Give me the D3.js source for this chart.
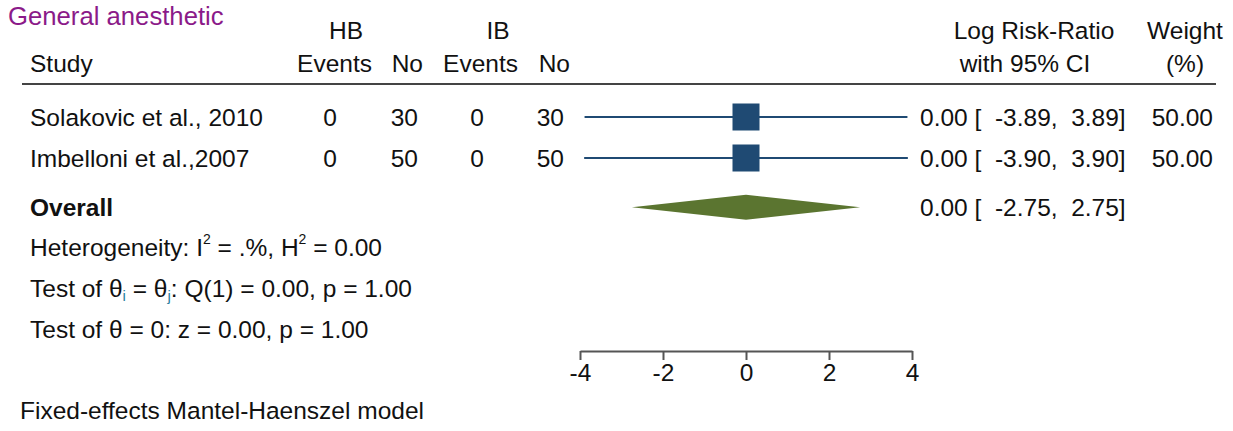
<!DOCTYPE html>
<html>
<head>
<meta charset="utf-8">
<script src="https://cdn.jsdelivr.net/npm/d3@7"></script>
<style>
  body { margin: 0; background: #fff; }
  svg text { font-family: "Liberation Sans", Arial, sans-serif; fill: #111; }
</style>
</head>
<body>
<div id="chart"></div>
<script>
// study data
const studies = ["Solakovic et al., 2010", "Imbelloni et al.,2007"];
const hbEvents = [0, 0];
const hbNo = [30, 50];
const ibEvents = [0, 0];
const ibNo = [30, 50];
const logRR = [0.00, 0.00];
const ciLow = [-3.89, -3.90];
const ciHigh = [3.89, 3.90];
const weights = [50.00, 50.00];

// overall estimate
const overall = { est: 0.00, low: -2.75, high: 2.75 };
const axisTicks = [-4, -2, 0, 2, 4];

const W = 1233, H = 431;
const fs = 24.5;
const blue = "#1f4a73", green = "#5b7530";
const sp = "\u00a0\u00a0";

const svg = d3.select("#chart").append("svg")
    .attr("width", W)
    .attr("height", H);

// scales
const x = d3.scaleLinear().domain([-4, 4]).range([580, 912]);
const y = d3.scaleLinear().domain([0, 1]).range([117, 158]);
const boxSize = d3.scaleSqrt().domain([0, 50]).range([0, 27]);

const ciText = (e, l, h) => `${e.toFixed(2)} [${sp}${l.toFixed(2)},${sp}${h.toFixed(2)}]`;

// title
svg.append("text")
    .attr("x", 8).attr("y", 25)
    .style("font-size", "25.7px")
    .style("fill", "#8b1a89")
    .text("General anesthetic");

// header
const hdr = [
    { t: "HB", x: 346, y: 39, a: "middle" },
    { t: "IB", x: 498, y: 39, a: "middle" },
    { t: "Study", x: 30, y: 72, a: "start" },
    { t: "Events", x: 372, y: 72, a: "end" },
    { t: "No", x: 423, y: 72, a: "end" },
    { t: "Events", x: 518, y: 72, a: "end" },
    { t: "No", x: 570, y: 72, a: "end" },
    { t: "Log Risk-Ratio", x: 1034, y: 39, a: "middle" },
    { t: "with 95% CI", x: 1025, y: 72, a: "middle" },
    { t: "Weight", x: 1185, y: 39, a: "middle" },
    { t: "(%)", x: 1185, y: 72, a: "middle" }
];
svg.selectAll(".hdr").data(hdr).enter().append("text")
    .attr("class", "hdr")
    .attr("x", d => d.x).attr("y", d => d.y)
    .attr("text-anchor", d => d.a)
    .style("font-size", fs + "px")
    .text(d => d.t);

svg.append("line")
    .attr("x1", 22).attr("x2", 1216)
    .attr("y1", 84).attr("y2", 84)
    .attr("stroke", "#444").attr("stroke-width", 2);

// study rows
const rows = studies.map((s, i) => ({
    study: s, he: hbEvents[i], hn: hbNo[i], ie: ibEvents[i], inn: ibNo[i],
    est: logRR[i], lo: ciLow[i], hi: ciHigh[i], w: weights[i], i: i
}));

const g = svg.selectAll(".row").data(rows).enter().append("g")
    .attr("class", "row")
    .attr("transform", d => `translate(0,${y(d.i)})`);

const txt = (sel, xx, anchor, f) => sel.append("text")
    .attr("x", xx).attr("dy", "0.36em")
    .attr("text-anchor", anchor)
    .style("font-size", fs + "px")
    .text(f);

txt(g, 337, "end", d => d.he);
txt(g, 418, "end", d => d.hn);
txt(g, 484, "end", d => d.ie);
txt(g, 564, "end", d => d.inn);
txt(g, 30, "start", d => d.study);
txt(g, 920, "start", d => ciText(d.est, d.lo, d.hi));
txt(g, 1213, "end", d => d.w.toFixed(2));

g.append("line")
    .attr("x1", d => x(d.lo)).attr("x2", d => x(d.hi))
    .attr("stroke", blue).attr("stroke-width", 2);

g.append("rect")
    .attr("x", d => x(d.est) - boxSize(d.w) / 2)
    .attr("y", d => -boxSize(d.w) / 2)
    .attr("width", d => boxSize(d.w))
    .attr("height", d => boxSize(d.w))
    .attr("fill", blue);

// overall
const oy = y(2.2);
svg.append("text")
    .attr("x", 30).attr("y", oy).attr("dy", "0.36em")
    .style("font-size", fs + "px")
    .style("font-weight", "bold")
    .text("Overall");

svg.append("path")
    .attr("d", `M${x(overall.low)},${oy} L${x(overall.est)},${oy - 12.5} L${x(overall.high)},${oy} L${x(overall.est)},${oy + 12.5} Z`)
    .attr("fill", green);

svg.append("text")
    .attr("x", 920).attr("y", oy).attr("dy", "0.36em")
    .style("font-size", fs + "px")
    .text(ciText(overall.est, overall.low, overall.high));

// heterogeneity and tests
const het = svg.append("text").attr("x", 30).attr("y", 256).style("font-size", fs + "px");
het.append("tspan").text("Heterogeneity: I");
het.append("tspan").attr("dy", -12).style("font-size", "14px").text("2");
het.append("tspan").attr("dy", 12).text(" = .%, H");
het.append("tspan").attr("dy", -12).style("font-size", "14px").text("2");
het.append("tspan").attr("dy", 12).text(" = 0.00");

const t1 = svg.append("text").attr("x", 30).attr("y", 297).style("font-size", fs + "px");
t1.append("tspan").text("Test of θ");
t1.append("tspan").attr("dy", 4).style("font-size", "15px").style("fill", "#2a7f9e").text("i");
t1.append("tspan").attr("dy", -4).text(" = θ");
t1.append("tspan").attr("dy", 4).style("font-size", "15px").style("fill", "#2a7f9e").text("j");
t1.append("tspan").attr("dy", -4).text(": Q(1) = 0.00, p = 1.00");

svg.append("text").attr("x", 30).attr("y", 338).style("font-size", fs + "px")
    .text("Test of θ = 0: z = 0.00, p = 1.00");

// axis
const axis = svg.append("g")
    .attr("transform", "translate(0,351)")
    .call(d3.axisBottom(x).tickValues(axisTicks).tickFormat(d => String(d))
        .tickSize(9).tickSizeOuter(0).tickPadding(4));
axis.select(".domain").attr("stroke", "#555").attr("stroke-width", 2);
axis.selectAll(".tick line").attr("stroke", "#555").attr("stroke-width", 2);
axis.selectAll(".tick text")
    .style("font-size", fs + "px")
    .style("font-family", "Liberation Sans, Arial, sans-serif")
    .attr("fill", "#111");

// footer
svg.append("text")
    .attr("x", 20).attr("y", 419)
    .style("font-size", fs + "px")
    .text("Fixed-effects Mantel-Haenszel model");
</script>
</body>
</html>
